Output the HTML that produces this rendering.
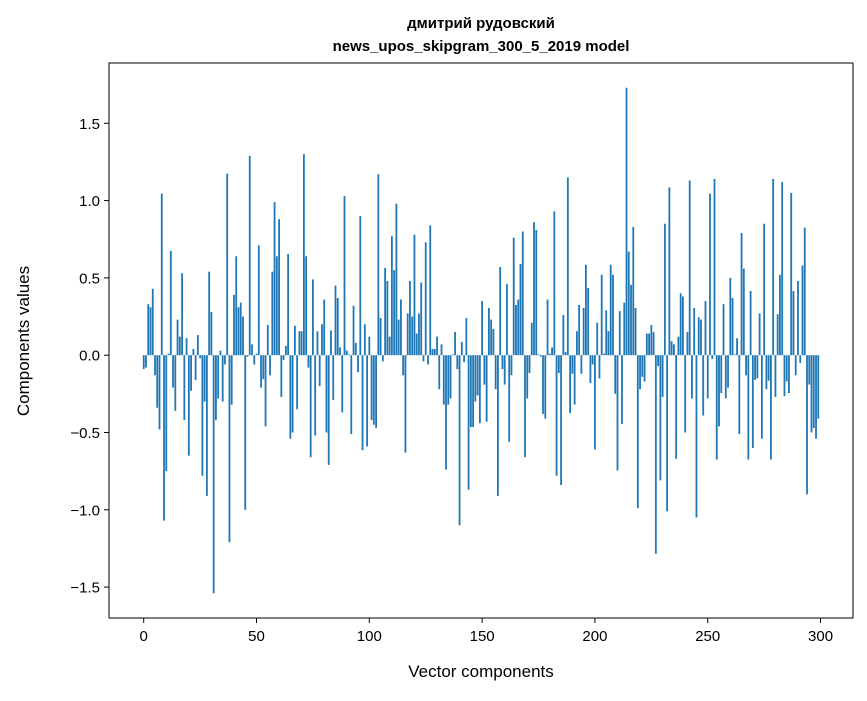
<!DOCTYPE html>
<html><head><meta charset="utf-8"><style>
body{margin:0;background:#fff;}
svg text{font-family:"Liberation Sans","DejaVu Sans",sans-serif;fill:#000;}
</style></head><body>
<svg id="chart" width="867" height="696" xmlns="http://www.w3.org/2000/svg">
<rect width="867" height="696" fill="#fff"/>
<text x="481" y="28" text-anchor="middle" font-size="15" font-weight="bold">дмитрий рудовский</text>
<text x="481" y="51" text-anchor="middle" font-size="15" font-weight="bold">news_upos_skipgram_300_5_2019 model</text>
<g id="bars"></g>
<g id="axes"></g>
<text x="481" y="677" text-anchor="middle" font-size="17">Vector components</text>
<text transform="translate(29,341) rotate(-90)" text-anchor="middle" font-size="17">Components values</text>
</svg>
<script>
const values = [-0.09,-0.08,0.33,0.31,0.43,-0.13,-0.34,-0.48,1.045,-1.07,-0.75,0.01,0.675,-0.21,-0.36,0.23,0.12,0.53,-0.42,0.11,
-0.65,-0.23,0.04,-0.16,0.13,-0.02,-0.78,-0.30,-0.91,0.54,0.28,-1.54,-0.42,-0.28,0.03,-0.30,-0.06,1.175,-1.21,-0.32,
0.39,0.64,0.31,0.34,0.25,-1.0,-0.01,1.29,0.07,-0.06,0.01,0.71,-0.21,-0.155,-0.46,0.195,-0.13,0.54,0.99,0.64,
0.88,-0.27,-0.03,0.06,0.655,-0.54,-0.50,0.19,-0.35,0.155,0.155,1.30,0.64,-0.08,-0.66,0.49,-0.52,0.155,-0.20,0.20,
0.36,-0.50,-0.71,0.16,-0.29,0.45,0.37,0.05,-0.37,1.03,0.03,0.005,-0.51,0.32,0.08,-0.11,0.90,-0.615,0.20,-0.59,
0.12,-0.42,-0.45,-0.47,1.17,0.24,-0.04,0.565,0.48,0.12,0.77,0.55,0.98,0.23,0.36,-0.13,-0.63,0.27,0.48,0.25,
0.78,0.14,0.27,0.47,-0.04,0.73,-0.06,0.84,0.04,0.04,0.12,-0.22,0.07,-0.32,-0.74,-0.32,-0.28,0.005,0.15,-0.09,
-1.10,0.085,-0.045,0.24,-0.87,-0.465,-0.465,-0.30,-0.26,-0.44,0.35,-0.19,-0.43,0.305,0.23,0.17,-0.22,-0.91,0.57,-0.09,
-0.19,0.46,-0.56,-0.13,0.76,0.325,0.36,0.59,0.80,-0.66,-0.28,-0.115,0.21,0.86,0.81,0.005,-0.01,-0.38,-0.41,0.36,
0.01,0.05,0.93,-0.78,-0.115,-0.84,0.26,0.02,1.15,-0.375,-0.12,-0.32,0.155,0.325,-0.12,0.305,0.585,0.435,-0.18,-0.06,
-0.61,0.21,-0.15,0.52,0.01,0.29,0.155,0.585,0.52,-0.25,-0.745,0.285,-0.445,0.34,1.73,0.67,0.455,0.83,0.305,-0.99,
-0.22,-0.14,-0.17,0.14,0.14,0.195,0.15,-1.285,-0.07,-0.81,-0.27,0.85,-1.01,1.085,0.09,0.07,-0.67,0.12,0.40,0.38,
-0.50,0.15,1.13,-0.28,0.305,-1.05,0.245,0.23,-0.39,0.35,-0.28,1.045,-0.025,1.14,-0.675,-0.46,-0.245,0.33,-0.28,-0.21,
0.50,0.37,0.005,0.11,-0.51,0.79,0.56,-0.13,-0.675,0.415,-0.60,-0.16,-0.15,0.27,-0.54,0.85,-0.22,-0.165,-0.675,1.14,
-0.27,0.265,0.52,1.12,-0.265,-0.17,-0.245,1.05,0.415,-0.13,0.48,-0.05,0.58,0.825,-0.90,-0.19,-0.50,-0.47,-0.54,-0.41];
const xTicks = [0,50,100,150,200,250,300];
const yTicks = [-1.5,-1.0,-0.5,0.0,0.5,1.0,1.5];
const yTickLabels = ["\u22121.5","\u22121.0","\u22120.5","0.0","0.5","1.0","1.5"];

const L=109,R=853,T=63,B=618;
const xmin=-15.39,xmax=314.39;
const ymin=-1.70,ymax=1.89;
const xs=v=>L+(v-xmin)/(xmax-xmin)*(R-L);
const ys=v=>B-(v-ymin)/(ymax-ymin)*(B-T);
const NS="http://www.w3.org/2000/svg";
const bars=document.getElementById('bars');
const axes=document.getElementById('axes');
values.forEach((v,i)=>{
  const r=document.createElementNS(NS,'rect');
  const x0=xs(i-0.4),x1=xs(i+0.4);
  const y0=ys(Math.max(v,0)),y1=ys(Math.min(v,0));
  r.setAttribute('x',x0);r.setAttribute('width',x1-x0);
  r.setAttribute('y',y0);r.setAttribute('height',Math.max(y1-y0,0.3));
  r.setAttribute('fill','#1f77b4');
  
  
  bars.appendChild(r);
});
const frame=document.createElementNS(NS,'rect');
frame.setAttribute('x',L);frame.setAttribute('y',T);
frame.setAttribute('width',R-L);frame.setAttribute('height',B-T);
frame.setAttribute('fill','none');frame.setAttribute('stroke','#000');frame.setAttribute('stroke-width','1');


axes.appendChild(frame);
xTicks.forEach(t=>{
  const x=xs(t);
  const ln=document.createElementNS(NS,'line');
  ln.setAttribute('x1',x);ln.setAttribute('x2',x);ln.setAttribute('y1',B);ln.setAttribute('y2',B+5);ln.setAttribute('stroke','#000');
  
  
  axes.appendChild(ln);
  const tx=document.createElementNS(NS,'text');
  tx.setAttribute('x',x);tx.setAttribute('y',B+23);tx.setAttribute('text-anchor','middle');tx.setAttribute('font-size','15');
  tx.textContent=t;
  
  
  axes.appendChild(tx);
});
yTicks.forEach((t,k)=>{
  const y=ys(t);
  const ln=document.createElementNS(NS,'line');
  ln.setAttribute('x1',L-5);ln.setAttribute('x2',L);ln.setAttribute('y1',y);ln.setAttribute('y2',y);ln.setAttribute('stroke','#000');
  
  
  axes.appendChild(ln);
  const tx=document.createElementNS(NS,'text');
  tx.setAttribute('x',L-9);tx.setAttribute('y',y+5.5);tx.setAttribute('text-anchor','end');tx.setAttribute('font-size','15');
  tx.textContent=yTickLabels[k];
  
  
  axes.appendChild(tx);
});
</script>
</body></html>
